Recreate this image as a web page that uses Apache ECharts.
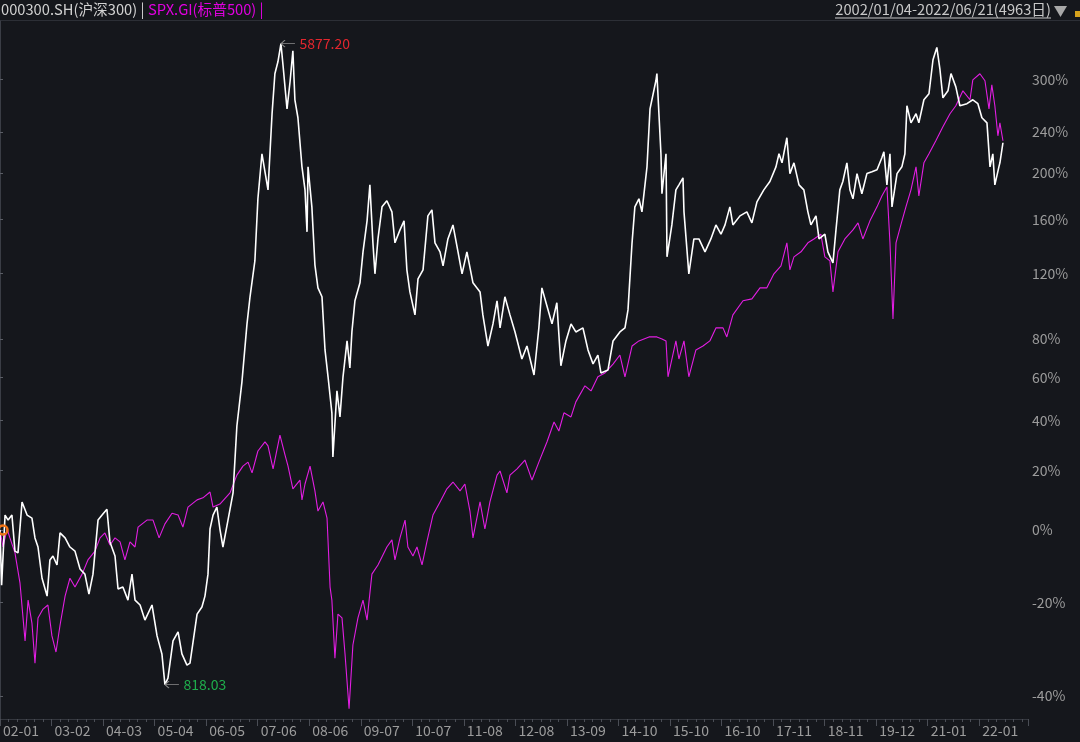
<!DOCTYPE html>
<html>
<head>
<meta charset="utf-8">
<script src="https://cdn.jsdelivr.net/npm/echarts@6/dist/echarts.min.js"></script>
<style>
  html, body { margin: 0; padding: 0; background: #15171c; }
  #chart { width: 1080px; height: 742px; }
</style>
</head>
<body>
<div id="chart"></div>
<script>
// ---- data: x = trading-day number since 2002/01/04, y = cumulative change in % ----
const csi300 = [[0,0],[8,-15.6],[25,4.7],[40,3.1],[59,4.7],[74,-6.3],[89,-6.8],[109,9.0],[134,4.7],[158,3.7],[173,-2.4],[188,-5.1],[208,-13.8],[233,-18.4],[247,-8.8],[262,-7.7],[282,-10.2],[297,-0.9],[322,-2.4],[346,-5.1],[371,-6.3],[396,-11.3],[420,-12.7],[440,-17.9],[460,-12.7],[485,3.1],[505,4.7],[529,6.6],[544,-3.6],[569,-7.7],[584,-16.6],[608,-16.1],[633,-19.4],[653,-12.7],[668,-19.4],[693,-20.6],[717,-24.2],[752,-20.6],[777,-27.8],[801,-31.7],[816,-37.86],[831,-36.6],[856,-28.9],[881,-26.9],[900,-31.7],[925,-34.0],[940,-33.6],[975,-22.8],[999,-21.1],[1014,-18.4],[1029,-12.7],[1039,0.3],[1054,4.7],[1073,7.3],[1088,0.3],[1103,-5.1],[1128,3.1],[1153,12.1],[1172,37.7],[1197,57.7],[1222,88.5],[1237,104.9],[1261,128.8],[1276,177.0],[1296,218.1],[1311,200.9],[1326,184.7],[1346,259.8],[1360,306.9],[1375,322.2],[1390,346.4],[1400,318.3],[1420,265.3],[1435,297.0],[1449,336.8],[1459,275.6],[1474,255.4],[1494,205.6],[1509,184.7],[1519,150.2],[1524,205.6],[1543,170.2],[1558,126.1],[1573,110.6],[1593,104.9],[1608,74.0],[1623,60.2],[1642,43.4],[1647,25.2],[1667,53.4],[1682,41.6],[1697,60.2],[1717,78.9],[1731,64.6],[1741,83.9],[1756,102.4],[1781,113.9],[1796,135.3],[1816,158.8],[1830,189.1],[1845,141.9],[1855,119.9],[1870,144.8],[1890,170.2],[1914,175.3],[1939,166.1],[1954,141.9],[1979,151.7],[1999,158.8],[2013,122.6],[2028,108.0],[2053,93.8],[2068,116.5],[2093,122.6],[2117,162.8],[2137,167.7],[2152,141.9],[2177,135.3],[2192,125.4],[2216,144.8],[2241,155.6],[2266,135.3],[2286,119.9],[2310,135.3],[2340,113.9],[2375,108.0],[2389,93.8],[2414,76.1],[2439,88.5],[2459,102.4],[2474,86.2],[2498,104.9],[2523,93.8],[2548,83.9],[2582,69.2],[2607,76.1],[2642,61.1],[2666,86.2],[2681,110.6],[2706,99.2],[2731,88.5],[2755,101.2],[2775,65.7],[2800,78.9],[2825,88.5],[2849,83.9],[2884,86.2],[2909,74.0],[2934,66.7],[2958,71.3],[2973,62.1],[3008,63.6],[3033,78.9],[3067,83.9],[3092,86.2],[3107,96.8],[3127,141.9],[3141,170.2],[3161,177.0],[3176,166.1],[3201,205.6],[3216,265.3],[3245,298.2],[3250,307.2],[3270,218.1],[3275,181.3],[3295,218.1],[3300,131.7],[3324,155.6],[3344,184.7],[3359,189.1],[3379,195.4],[3384,166.1],[3408,119.9],[3433,144.8],[3458,144.8],[3488,135.3],[3517,144.8],[3542,155.6],[3567,148.4],[3587,155.6],[3611,170.2],[3626,155.6],[3661,162.8],[3695,166.1],[3720,157.2],[3745,174.4],[3779,184.7],[3809,192.1],[3839,205.6],[3854,218.1],[3869,209.4],[3893,234.2],[3908,199.3],[3928,209.4],[3953,189.1],[3977,184.7],[3997,166.1],[4012,155.6],[4037,162.8],[4052,144.8],[4081,148.4],[4096,135.3],[4121,127.4],[4136,151.7],[4155,184.7],[4170,192.1],[4190,209.4],[4205,184.7],[4220,177.0],[4240,199.3],[4264,181.3],[4289,199.3],[4314,201.0],[4339,202.8],[4363,214.2],[4373,220.0],[4388,189.1],[4403,218.1],[4413,170.2],[4438,199.3],[4462,205.6],[4477,218.1],[4487,268.8],[4507,249.9],[4532,259.8],[4546,249.9],[4571,275.6],[4596,282.6],[4616,324.8],[4635,341.2],[4650,313.2],[4665,277.9],[4690,286.1],[4705,307.2],[4729,290.8],[4749,268.8],[4784,271.1],[4813,275.6],[4838,271.1],[4858,255.4],[4883,249.9],[4898,205.6],[4912,218.1],[4922,189.1],[4942,205.6],[4947,209.4],[4962,229.1]];

const spx500 = [[0,0],[15,-5.1],[35,0.3],[49,-2.4],[74,-6.8],[99,-15.1],[124,-28.9],[139,-19.4],[158,-24.9],[173,-33.6],[188,-23.7],[213,-21.6],[237,-20.6],[257,-27.8],[277,-31.3],[297,-25.4],[322,-18.4],[346,-13.8],[371,-16.1],[406,-12.7],[435,-8.8],[470,-6.3],[495,-2.4],[519,-0.9],[544,-4.5],[569,-2.4],[594,-3.6],[618,-8.8],[643,-3.6],[668,-5.1],[683,0.9],[727,3.1],[757,3.1],[787,-2.4],[816,1.9],[851,5.3],[881,4.7],[905,0.9],[930,7.3],[975,9.7],[1004,10.4],[1039,12.4],[1054,7.3],[1088,8.3],[1138,12.1],[1172,18.4],[1202,21.7],[1227,23.2],[1247,19.2],[1276,27.5],[1311,31.1],[1326,29.5],[1351,20.7],[1385,33.9],[1410,26.0],[1425,21.7],[1449,13.5],[1484,16.6],[1494,9.7],[1509,15.2],[1534,21.7],[1558,12.8],[1573,6.0],[1598,9.0],[1618,3.7],[1633,-16.1],[1642,-19.4],[1657,-32.6],[1672,-22.8],[1692,-23.7],[1707,-31.7],[1727,-42.3],[1746,-29.8],[1771,-23.7],[1796,-19.4],[1816,-24.2],[1840,-12.7],[1870,-10.2],[1914,-5.1],[1939,-3.0],[1954,-8.8],[1979,-2.4],[2004,3.1],[2018,-5.1],[2043,-7.7],[2063,-5.1],[2088,-10.2],[2112,-3.6],[2142,4.7],[2177,9.0],[2211,13.5],[2241,15.9],[2276,12.8],[2300,15.2],[2325,6.0],[2340,-2.4],[2375,9.0],[2399,0.3],[2424,9.0],[2459,18.4],[2474,19.9],[2508,12.1],[2523,18.4],[2558,20.7],[2597,24.0],[2632,16.6],[2666,23.2],[2706,31.1],[2741,39.4],[2765,35.6],[2790,43.4],[2825,41.6],[2849,48.3],[2894,55.8],[2924,53.4],[2958,60.2],[2993,62.1],[3033,66.6],[3067,71.3],[3092,60.2],[3127,76.1],[3161,78.9],[3211,81.1],[3250,81.1],[3275,80.0],[3295,78.9],[3305,60.2],[3344,78.9],[3359,69.2],[3384,78.9],[3408,60.2],[3443,74.0],[3478,76.1],[3512,78.9],[3542,86.2],[3577,86.2],[3596,81.1],[3626,93.8],[3676,102.4],[3720,103.6],[3760,110.6],[3794,110.6],[3829,119.9],[3864,125.4],[3893,141.9],[3908,122.6],[3928,131.7],[3963,135.3],[3997,141.9],[4027,144.8],[4061,148.4],[4081,131.7],[4106,128.8],[4121,108.0],[4146,135.3],[4180,144.8],[4220,151.7],[4245,157.2],[4269,144.8],[4304,158.8],[4339,170.2],[4363,179.4],[4388,187.3],[4403,141.9],[4418,91.4],[4433,141.9],[4457,155.6],[4482,170.2],[4507,184.7],[4532,205.6],[4546,179.4],[4571,209.4],[4596,218.1],[4630,231.1],[4665,245.7],[4700,259.8],[4729,268.8],[4764,286.1],[4799,275.6],[4813,299.4],[4848,306.9],[4873,298.2],[4893,265.3],[4907,293.3],[4922,268.8],[4937,236.2],[4947,249.9],[4962,231.1]];

const xTickLabels = ['02-01','03-02','04-03','05-04','06-05','07-06','08-06','09-07','10-07','11-08','12-08','13-09','14-10','15-10','16-10','17-11','18-11','19-12','21-01','22-01'];
const xTickStep = 255;          // trading days between x labels
const xMaxDay = 5086;
const yTickPct = [-40, -20, 0, 20, 40, 60, 80, 120, 160, 200, 240, 300];
const yMinRatio = 0.5591, yMaxRatio = 4.786;
const csiHighText = '5877.20';
const csiLowText = '818.03';
const headerLeft1 = '000300.SH(沪深300) |';
const headerLeft2 = 'SPX.GI(标普500) |';
const headerRight = '2002/01/04-2022/06/21(4963日)';

// ---- build ----
const toRatio = arr => arr.map(p => [p[0], 1 + p[1] / 100]);
const yTickVals = yTickPct.map(p => 1 + p / 100);
const FONT = '"Noto Sans CJK SC", "Noto Sans", sans-serif';
const AX = '#9c9c9c';
const HF = '14.7px ' + FONT;

const chart = echarts.init(document.getElementById('chart'), null, { renderer: 'canvas' });
chart.setOption({
  backgroundColor: '#15171c',
  animation: false,
  textStyle: { fontFamily: FONT },
  grid: { left: 0, right: 52, top: 21, bottom: 23, containLabel: false },
  xAxis: {
    type: 'value',
    min: 0, max: xMaxDay, interval: xTickStep,
    splitLine: { show: false },
    axisLine: { show: true, lineStyle: { color: '#34373e', width: 1 } },
    axisTick: { show: true, length: 7, lineStyle: { color: '#4a4d55' } },
    minorTick: { show: true, splitNumber: 6, length: 3, lineStyle: { color: '#4a4d55' } },
    axisLabel: {
      color: AX, fontSize: 14, fontFamily: FONT, margin: 5, align: 'left', padding: [0, 0, 0, 3],
      showMaxLabel: false,
      formatter: v => {
        const i = Math.round(v / xTickStep);
        return (Math.abs(v - i * xTickStep) < 1e-6 && i < xTickLabels.length) ? xTickLabels[i] : '';
      }
    }
  },
  yAxis: {
    type: 'log', logBase: 10, position: 'right',
    min: yMinRatio, max: yMaxRatio,
    splitLine: { show: false },
    axisLine: { show: true, lineStyle: { color: '#3a3d45' } },
    axisTick: { show: true, length: 3, customValues: yTickVals, lineStyle: { color: '#5a5d65' } },
    axisLabel: {
      customValues: yTickVals, color: AX, fontSize: 14, fontFamily: FONT, margin: 4,
      formatter: v => Math.round((v - 1) * 100) + '%'
    }
  },
  series: [
    {
      name: 'SPX.GI', type: 'line', data: toRatio(spx500), showSymbol: false,
      lineStyle: { color: '#e21ee2', width: 1.1 }, z: 2,
      markPoint: {
        silent: true,
        data: [{
          coord: [spx500[0][0], 1 + spx500[0][1] / 100],
          symbol: 'circle', symbolSize: 9, symbolOffset: [3, 0],
          itemStyle: { color: 'rgba(0,0,0,0)', borderColor: '#f07418', borderWidth: 2.5 },
          label: { show: false }
        }]
      }
    },
    {
      name: '000300.SH', type: 'line', data: toRatio(csi300), showSymbol: false,
      lineStyle: { color: '#ffffff', width: 1.6 }, z: 3,
      markPoint: {
        silent: true,
        symbol: 'path://M0,4L14,4M0,4L4,1M0,4L4,7',
        symbolSize: [14, 7],
        symbolOffset: [7, 0],
        itemStyle: { color: 'none', borderColor: '#8c8c8c', borderWidth: 1 },
        label: { show: true, position: 'right', distance: 1, fontSize: 14, fontFamily: FONT },
        data: [
          { type: 'max', valueIndex: 1, label: { formatter: csiHighText, color: '#e3262e' } },
          { type: 'min', valueIndex: 1, label: { formatter: csiLowText, color: '#1fae4c' } }
        ]
      }
    }
  ],
  graphic: [
    { type: 'line', shape: { x1: 0, y1: 20.5, x2: 1080, y2: 20.5 }, style: { stroke: '#2c2f36', lineWidth: 1 }, silent: true },
    { type: 'text', left: 1, top: 2, style: { text: headerLeft1, fill: '#d2d2d2', font: HF } },
    { type: 'text', left: 148, top: 2, style: { text: headerLeft2, fill: '#e000e0', font: HF } },
    { type: 'text', right: 29, top: 2, style: { text: headerRight, fill: '#c8c8c8', font: HF } },
    { type: 'line', shape: { x1: 835, y1: 18, x2: 1051, y2: 18 }, style: { stroke: '#c8c8c8', lineWidth: 1 }, silent: true },
    { type: 'polygon', shape: { points: [[1054, 6], [1067, 6], [1060.5, 17]] }, style: { fill: '#a8a8a8' }, silent: true },
    { type: 'rect', shape: { x: 1075, y: 11, width: 6, height: 6 }, style: { fill: '#d6a21c' }, silent: true }
  ]
});
</script>
</body>
</html>
